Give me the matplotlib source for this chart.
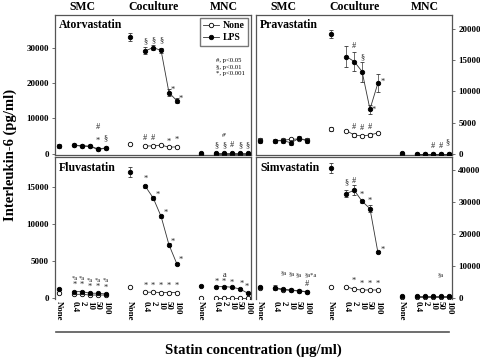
import matplotlib
matplotlib.use("Agg")
import matplotlib.pyplot as plt
from matplotlib.lines import Line2D
from matplotlib.transforms import blended_transform_factory

plt.rcParams["font.family"] = ["Liberation Serif", "DejaVu Serif"]
plt.rcParams["font.weight"] = "bold"

GROUPS = ["SMC", "Coculture", "MNC"]
CONC = ["None", "0.4", "2", "10", "50", "100"]

# values per panel: SMC (6) + Coculture (6) + MNC (6)
ator_lps = [2300, 2500, 2300, 2200, 1400, 1700,
            33000, 29100, 30000, 29200, 17300, 15000,
            200, 300, 300, 300, 300, 300]
ator_lps_err = [500, 300, 200, 200, 200, 300,
                1000, 1000, 800, 700, 900, 700,
                100, 80, 80, 80, 80, 80]
ator_none = [2100, 2400, 2200, 2100, 1300, 1600,
             2700, 2250, 2250, 2500, 1900, 2000,
             100, 100, 100, 100, 100, 100]
ator_none_err = [0] * 18

prav_lps = [2080, 2130, 2100, 1800, 2500, 2100,
            19150, 15570, 14770, 13170, 7150, 11300,
            150, 50, 50, 50, 50, 50]
prav_lps_err = [400, 300, 400, 400, 300, 400,
                600, 1700, 1500, 1600, 700, 1400,
                50, 30, 30, 30, 30, 30]
prav_none = [2200, 2150, 2200, 2350, 2400, 2300,
             3950, 3730, 3040, 2880, 3040, 3360,
             30, 30, 30, 30, 30, 30]
prav_none_err = [300, 150, 200, 150, 150, 250,
                 300, 100, 300, 200, 300, 200,
                 0, 0, 0, 0, 0, 0]

fluv_lps = [1140, 820, 820, 600, 600, 500,
            17080, 15120, 13540, 11030, 7180, 4590,
            1630, 1500, 1500, 1420, 1180, 600]
fluv_lps_err = [150, 150, 150, 100, 100, 100,
                700, 200, 250, 250, 200, 150,
                100, 100, 100, 100, 100, 100]
fluv_none = [680, 460, 460, 360, 360, 360,
             1500, 740, 740, 700, 700, 700,
             0, 0, 0, 0, 0, 0]
fluv_none_err = [0] * 18

simv_lps = [3280, 3150, 2650, 2430, 2200, 1900,
            40820, 32700, 33760, 30290, 27980, 14320,
            540, 600, 600, 600, 600, 600]
simv_lps_err = [300, 800, 300, 200, 200, 300,
                1500, 1200, 1500, 500, 1000, 400,
                100, 100, 100, 100, 100, 100]
simv_none = [3100, 2900, 2500, 2300, 2100, 1800,
             3470, 3470, 2650, 2430, 2430, 2430,
             200, 200, 200, 200, 200, 200]
simv_none_err = [0] * 18

# significance marks: (series, point index, text, dx pt, dy pt)
ator_notes = [("L", 4, "*", 0, 6), ("L", 4, "#", 0, 15.5), ("L", 5, "§", 0, 7),
              ("L", 7, "§", 0, 7), ("L", 8, "§", 0, 5.5), ("L", 9, "§", 0, 7),
              ("L", 10, "*", 3, 2), ("L", 11, "*", 3, 1),
              ("N", 7, "#", 0, 6), ("N", 8, "#", 0, 6), ("N", 10, "*", 0, 4), ("N", 11, "*", 0, 5),
              ("L", 13, "§", 0, 5.5), ("L", 14, "§", 0, 5.5), ("L", 15, "#", 0, 5.5),
              ("L", 16, "§", 0, 5.5), ("L", 17, "§", 0, 5.5), ("L", 14, "#ª", 0, 12.5)]
prav_notes = [("L", 8, "#", 0, 11), ("L", 9, "§", 0, 10), ("L", 10, "*", 3, -0.5),
              ("L", 11, "*", 3.4, 1),
              ("N", 8, "#", 0, 6), ("N", 9, "#", 0, 6), ("N", 10, "#", 0, 6),
              ("L", 15, "#", 0, 5.3), ("L", 16, "#", 0, 5.3), ("L", 17, "§", -1, 8)]
fluv_notes = [("L", i, "*", 0, 4.5) for i in range(1, 6)] + \
             [("L", i, "*a", 0, 9.5) for i in range(1, 6)] + \
             [("L", 7, "*", 0, 5.5), ("L", 8, "*", 3, 2.4), ("L", 9, "*", 3, 2.7),
              ("L", 10, "*", 3, 2.2), ("L", 11, "*", 3, 3)] + \
             [("N", i, "*", 0, 4.5) for i in range(7, 12)] + \
             [("L", 13, "*", 0, 3.6), ("L", 14, "*", 0, 3.6), ("L", 14, "a", 0, 8.5),
              ("L", 15, "*", 0, 3.3), ("L", 16, "*", 1, 3.6), ("L", 17, "*", -1, 4.3)]
simv_notes = [("L", 2, "§a", 0, 11.5), ("L", 3, "§a", 0, 11.5), ("L", 4, "§a", 0, 11.5),
              ("L", 5, "§a*a", 3, 12), ("L", 5, "#", 0, 5.5),
              ("L", 7, "§", 0, 8), ("L", 8, "#", 0, 7), ("L", 9, "*", 0, 4.3),
              ("L", 10, "*", 0, 5.3), ("L", 11, "*", 3.8, 1.7),
              ("N", 8, "*", 0, 6), ("N", 9, "*", 0, 4.3), ("N", 10, "*", 0, 4.3),
              ("N", 11, "*", 0, 4.3), ("L", 16, "§a", 0, 15)]

PANELS = [
    ("Atorvastatin", ator_lps, ator_lps_err, ator_none, ator_none_err, ator_notes,
     (-300, 39200), [0, 10000, 20000, 30000]),
    ("Pravastatin", prav_lps, prav_lps_err, prav_none, prav_none_err, prav_notes,
     (-160, 22200), [0, 5000, 10000, 15000, 20000]),
    ("Fluvastatin", fluv_lps, fluv_lps_err, fluv_none, fluv_none_err, fluv_notes,
     (-180, 19100), [0, 5000, 10000, 15000]),
    ("Simvastatin", simv_lps, simv_lps_err, simv_none, simv_none_err, simv_notes,
     (-400, 44200), [0, 10000, 20000, 30000, 40000]),
]

xpos = [b + o for b in (0, 9, 18) for o in (0, 2, 3, 4, 5, 6)]
group_mid = [3, 12, 21]
SPINE = "#555555"

fig = plt.figure(figsize=(4.8, 3.59), dpi=100)
W, H = 480.0, 359.0
boxes = [(55, 15, 251, 155), (256, 15, 452, 155),
         (55, 157, 251, 299), (256, 157, 452, 299)]

for k, (name, lps, lerr, none, nerr, notes, ylim, yticks) in enumerate(PANELS):
    x0, y0, x1, y1 = boxes[k]
    ax = fig.add_axes([x0 / W, 1 - y1 / H, (x1 - x0) / W, (y1 - y0) / H])
    for s in ax.spines.values():
        s.set_color(SPINE)
        s.set_linewidth(0.9)
    ser = {"L": lps, "N": none}

    # connecting lines (concentrations only)
    for g in range(3):
        idx = list(range(g * 6 + 1, g * 6 + 6))
        ax.plot([xpos[i] for i in idx], [none[i] for i in idx], "-", color="#333333", lw=0.6, zorder=2)
        ax.plot([xpos[i] for i in idx], [lps[i] for i in idx], "-", color="#333333", lw=0.6, zorder=3)
    ax.errorbar(xpos, none, yerr=nerr, fmt="o", ms=3.2, mfc="white", mec="black", mew=0.6,
                ecolor="#333333", elinewidth=0.5, capsize=1.5, capthick=0.5, zorder=4)
    ax.errorbar(xpos, lps, yerr=lerr, fmt="o", ms=3.2, mfc="black", mec="black", mew=0.6,
                ecolor="#333333", elinewidth=0.5, capsize=1.5, capthick=0.5, zorder=5)

    for sname, i, txt, dx, dy in notes:
        ax.annotate(txt, (xpos[i], ser[sname][i]), xytext=(dx, dy), textcoords="offset points",
                    ha="center", va="center", fontsize=6 if len(txt) == 1 else 4.6,
                    fontweight="normal", color="#222222")

    ax.set_xlim(-0.45, 24.4)
    ax.set_ylim(*ylim)
    ax.set_yticks(yticks)
    ax.set_yticklabels([str(t) for t in yticks])
    ax.tick_params(axis="y", labelsize=6.5, length=2.5, width=0.6, color=SPINE, pad=2)
    if k % 2 == 1:
        ax.yaxis.tick_right()
    ax.text(0.022, 0.93 if k < 2 else 0.922, name, transform=ax.transAxes,
            fontsize=8.5, fontweight="bold", va="center", ha="left")

    if k < 2:
        ax.set_xticks([])
        tr = blended_transform_factory(ax.transData, ax.transAxes)
        for gx, gname in zip(group_mid, GROUPS):
            ax.text(gx, 1.036, gname, transform=tr, ha="center", va="baseline",
                    fontsize=8.5, fontweight="bold")
    else:
        ax.spines["bottom"].set_visible(False)
        ax.set_xticks(xpos)
        ax.set_xticklabels(CONC * 3, rotation=270, fontsize=6.3)
        ax.tick_params(axis="x", length=0, pad=1.5)

    if k == 0:
        ax.legend(handles=[
            Line2D([], [], color="#333333", lw=0.6, marker="o", ms=3.2, mfc="white", mec="black", mew=0.6, label="None"),
            Line2D([], [], color="#333333", lw=0.6, marker="o", ms=3.2, mfc="black", mec="black", mew=0.6, label="LPS")],
            loc="upper right", fontsize=7, frameon=True, fancybox=False, edgecolor=SPINE,
            handlelength=1.6, borderpad=0.35, labelspacing=0.3, handletextpad=0.4,
            borderaxespad=0.3)
        ax.text(0.82, 0.69, "#, p<0.05\n§, p<0.01\n*, p<0.001", transform=ax.transAxes,
                fontsize=4.8, fontweight="normal", va="top", ha="left", linespacing=1.35)

fig.text(10 / W, 1 - 155 / H, "Interleukin-6 (pg/ml)", rotation=90, ha="center", va="center",
         fontsize=10.5, fontweight="bold")
fig.add_artist(Line2D([56 / W, 449 / W], [1 - 332 / H, 1 - 332 / H], color="#555555", lw=1.2))
fig.text(253 / W, 1 - 350 / H, "Statin concentration (μg/ml)", ha="center", va="center",
         fontsize=10.5, fontweight="bold")

fig.savefig("out.png", dpi=100)
